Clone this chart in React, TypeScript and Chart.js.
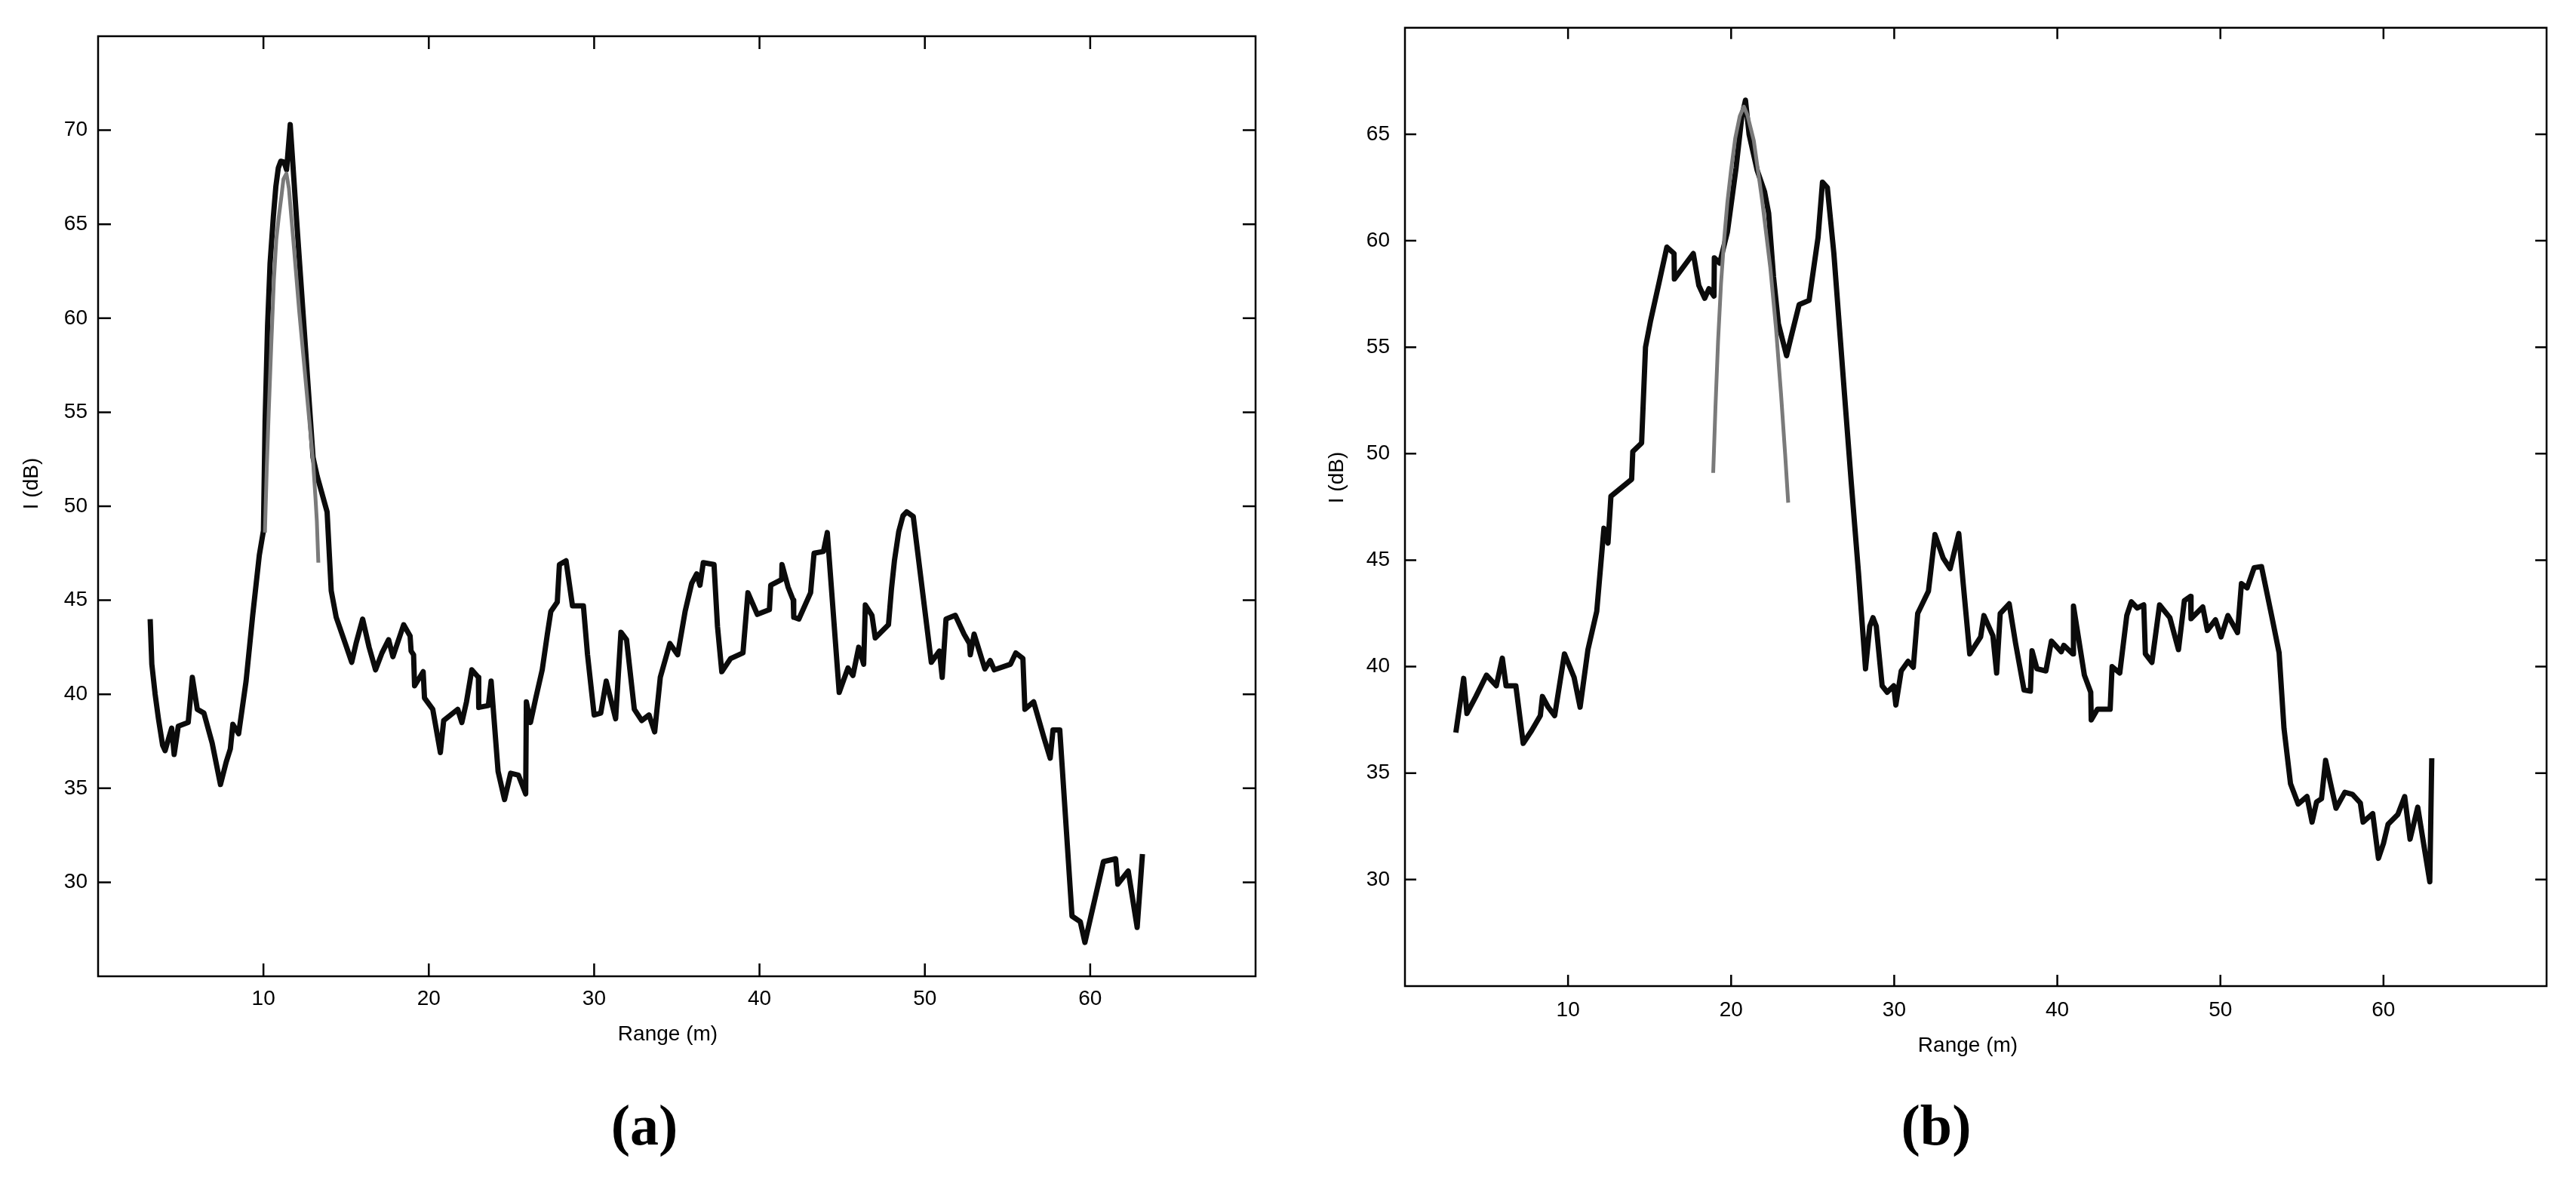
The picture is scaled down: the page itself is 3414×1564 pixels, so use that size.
import React, { useEffect, useRef } from 'react';
import { Chart, registerables } from 'chart.js';

Chart.register(...registerables);

// ---------- Data ----------
const xTickValues = [10, 20, 30, 40, 50, 60];
const yTicksA = [30, 35, 40, 45, 50, 55, 60, 65, 70];
const yTicksB = [30, 35, 40, 45, 50, 55, 60, 65];
const xTitle = 'Range (m)';
const yTitle = 'I (dB)';

// Panel (a): measured intensity
const rangeA = [
  3.15, 3.25, 3.45, 3.65, 3.9, 4.05, 4.45, 4.6, 4.85, 5.45,
  5.7, 6.0, 6.4, 6.9, 7.4, 7.75, 8.0, 8.15, 8.5, 8.95,
  9.35, 9.75, 10.0, 10.1, 10.25, 10.4, 10.6, 10.75, 10.9, 11.05,
  11.25, 11.4, 11.62, 12.0, 13.0, 13.25, 13.85, 14.1, 14.4, 14.95,
  15.34, 15.6, 16.0, 16.39, 16.78, 17.17, 17.57, 17.83, 18.48, 18.87,
  18.93, 19.08, 19.14, 19.66, 19.74, 20.24, 20.7, 20.9, 21.75, 22.0,
  22.28, 22.6, 23.0, 23.02, 23.6, 23.77, 24.19, 24.58, 24.95, 25.42,
  25.86, 25.9, 26.15, 26.47, 26.86, 27.17, 27.38, 27.77, 27.9, 28.3,
  28.69, 29.35, 29.6, 30.0, 30.4, 30.73, 31.3, 31.62, 31.96, 32.43,
  32.88, 33.32, 33.66, 34.0, 34.58, 35.05, 35.5, 35.9, 36.2, 36.4,
  36.6, 37.25, 37.46, 37.72, 38.25, 39.0, 39.3, 39.87, 40.6, 40.68,
  41.34, 41.36, 41.73, 42.04, 42.07, 42.38, 43.09, 43.3, 43.87, 44.1,
  44.82, 45.35, 45.65, 46.0, 46.3, 46.4, 46.8, 47.0, 47.8, 47.98,
  48.16, 48.42, 48.68, 48.9, 49.3, 50.39, 50.88, 51.05, 51.28, 51.84,
  52.37, 52.7, 52.75, 52.98, 53.63, 53.95, 54.2, 55.18, 55.5, 55.93,
  56.05, 56.58, 57.2, 57.58, 57.75, 58.16, 58.9, 59.4, 59.68, 60.8,
  61.54, 61.67, 62.3, 62.84, 63.16,
];
const intensityA = [
  44.0, 41.6, 40.0, 38.7, 37.3, 37.0, 38.2, 36.8, 38.3, 38.5,
  40.9, 39.2, 39.0, 37.4, 35.2, 36.4, 37.1, 38.4, 37.9, 40.7,
  44.2, 47.4, 48.7, 54.5, 59.6, 62.9, 65.4, 67.0, 68.0, 68.35,
  68.3, 67.9, 70.3, 65.3, 52.6, 51.6, 49.7, 45.5, 44.1, 42.7,
  41.7, 42.7, 44.0, 42.5, 41.3, 42.2, 42.9, 42.0, 43.7, 43.1,
  42.3, 42.1, 40.45, 41.2, 39.8, 39.2, 36.9, 38.6, 39.2, 38.5,
  39.6, 41.3, 40.9, 39.3, 39.4, 40.7, 35.9, 34.4, 35.8, 35.7,
  34.7, 39.6, 38.5, 39.8, 41.3, 43.2, 44.4, 44.9, 46.9, 47.1,
  44.7, 44.7, 42.1, 38.9, 39.0, 40.7, 38.7, 43.3, 42.9, 39.2,
  38.6, 38.9, 38.0, 40.9, 42.7, 42.1, 44.4, 45.9, 46.4, 45.8,
  47.0, 46.9, 43.6, 41.2, 41.9, 42.2, 45.4, 44.25, 44.5, 45.8,
  46.1, 46.9, 45.7, 45.0, 44.1, 44.0, 45.4, 47.5, 47.6, 48.6,
  40.1, 41.4, 41.0, 42.5, 41.6, 44.75, 44.2, 43.0, 43.7, 45.6,
  47.1, 48.65, 49.5, 49.7, 49.45, 41.7, 42.3, 40.9, 44.0, 44.2,
  43.2, 42.7, 42.1, 43.2, 41.35, 41.8, 41.3, 41.6, 42.2, 41.9,
  39.2, 39.6, 37.7, 36.6, 38.1, 38.1, 28.2, 27.9, 26.8, 31.1,
  31.25, 29.9, 30.6, 27.6, 31.5,
];
// Panel (a): fitted peak (grey)
const fitRangeA = [10.09, 10.2, 10.32, 10.47, 10.63, 10.78, 10.93, 11.09, 11.21, 11.39, 11.54, 11.85, 12.16, 12.77, 13.0, 13.15, 13.23, 13.32];
const fitIntensityA = [48.6, 52.0, 55.0, 58.5, 62.0, 64.2, 65.4, 66.5, 67.4, 67.7, 66.9, 63.7, 60.4, 54.6, 52.4, 50.4, 49.2, 47.0];

// Panel (b): measured intensity
const rangeB = [
  3.12, 3.25, 3.6, 3.8, 4.35, 5.0, 5.6, 5.97, 6.2, 6.8,
  7.25, 7.77, 8.3, 8.43, 8.78, 9.18, 9.78, 10.37, 10.74, 11.22,
  11.76, 12.2, 12.45, 12.63, 13.9, 13.97, 14.51, 14.75, 15.05, 15.6,
  16.06, 16.5, 16.52, 17.68, 18.02, 18.38, 18.64, 18.95, 18.97, 19.3,
  19.77, 20.3, 20.65, 20.88, 21.1, 21.6, 22.05, 22.3, 22.6, 22.9,
  23.4, 23.65, 24.17, 24.78, 25.33, 25.6, 25.9, 26.3, 26.95, 27.36,
  27.81, 28.0, 28.24, 28.5, 28.7, 28.9, 29.26, 29.57, 29.97, 30.1,
  30.43, 30.85, 31.17, 31.44, 32.1, 32.5, 33.0, 33.43, 33.96, 34.23,
  34.63, 35.3, 35.5, 36.05, 36.28, 36.5, 37.05, 37.44, 37.96, 38.35,
  38.45, 38.75, 39.3, 39.64, 40.24, 40.4, 40.95, 40.99, 41.66, 42.05,
  42.08, 42.46, 43.24, 43.36, 43.83, 44.26, 44.54, 44.9, 45.3, 45.4,
  45.8, 46.27, 46.9, 47.43, 47.79, 48.17, 48.2, 48.92, 49.2, 49.7,
  50.04, 50.46, 51.05, 51.29, 51.64, 52.07, 52.52, 53.18, 53.6, 53.9,
  54.3, 54.77, 55.31, 55.62, 55.9, 56.2, 56.45, 56.73, 57.09, 57.63,
  58.1, 58.58, 58.75, 59.34, 59.69, 60.0, 60.28, 60.88, 61.3, 61.63,
  62.1, 62.84, 62.96,
];
const intensityB = [
  36.9, 37.6, 39.45, 37.8, 38.6, 39.6, 39.1, 40.4, 39.1, 39.1,
  36.4, 37.0, 37.7, 38.6, 38.1, 37.7, 40.6, 39.5, 38.1, 40.8,
  42.6, 46.5, 45.8, 48.0, 48.8, 50.1, 50.5, 55.0, 56.2, 58.1,
  59.7, 59.4, 58.2, 59.4, 57.9, 57.3, 57.75, 57.4, 59.2, 58.95,
  60.4, 63.4, 65.8, 66.6, 65.0, 63.3, 62.3, 61.3, 58.3, 56.1,
  54.6, 55.4, 57.0, 57.2, 60.15, 62.75, 62.5, 59.4, 52.8, 48.7,
  44.4, 42.4, 39.9, 41.9, 42.3, 41.9, 39.1, 38.8, 39.1, 38.2,
  39.8, 40.25, 39.97, 42.5, 43.55, 46.2, 45.1, 44.6, 46.25, 43.9,
  40.6, 41.4, 42.4, 41.45, 39.7, 42.5, 42.95, 41.1, 38.9, 38.85,
  40.75, 39.9, 39.8, 41.2, 40.7, 41.0, 40.6, 42.85, 39.6, 38.8,
  37.5, 38.0, 38.0, 40.0, 39.7, 42.4, 43.05, 42.75, 42.9, 40.6,
  40.2, 42.9, 42.3, 40.8, 43.1, 43.3, 42.25, 42.8, 41.7, 42.2,
  41.4, 42.4, 41.6, 43.9, 43.7, 44.65, 44.7, 42.25, 40.65, 37.1,
  34.5, 33.55, 33.9, 32.7, 33.65, 33.8, 35.6, 34.6, 33.35, 34.1,
  34.0, 33.6, 32.7, 33.1, 31.0, 31.7, 32.6, 33.06, 33.9, 31.9,
  33.4, 29.9, 35.7,
];
// Panel (b): fitted peak (grey)
const fitRangeB = [18.9, 19.04, 19.2, 19.38, 19.57, 19.77, 20.0, 20.25, 20.53, 20.78, 21.0, 21.39, 21.9, 22.4, 22.75, 23.06, 23.31, 23.5];
const fitIntensityB = [49.1, 52.2, 55.3, 58.0, 60.05, 61.8, 63.35, 64.8, 65.85, 66.3, 65.9, 64.7, 61.9, 58.75, 55.9, 52.8, 50.0, 47.7];

// ---------- Layout ----------
const PAGE_W = 3414;
const PAGE_H = 1564;
const SANS = '"Liberation Sans", Arial, Helvetica, sans-serif';
const SERIF = '"Liberation Serif", "Times New Roman", serif';

type PanelSpec = {
  id: string;
  left: number;
  width: number;
  padTop: number;
  padRight: number;
  yAxisWidth: number;
  xAxisHeight: number;
  yMin: number;
  yMax: number;
  yTicks: number[];
  range: number[];
  intensity: number[];
  fitRange: number[];
  fitIntensity: number[];
  yLabelPad: number;
  xLabelPad: number;
  tickLen: number;
  xTitlePos: [number, number];
  yTitlePos: [number, number];
  panelLabel: string;
  panelLabelPos: [number, number];
};

const panelA: PanelSpec = {
  id: 'a',
  left: 0,
  width: 1740,
  padTop: 48,
  padRight: 76,
  yAxisWidth: 130,
  xAxisHeight: PAGE_H - 1294,
  yMin: 25,
  yMax: 75,
  yTicks: yTicksA,
  range: rangeA,
  intensity: intensityA,
  fitRange: fitRangeA,
  fitIntensity: fitIntensityA,
  yLabelPad: 14,
  xLabelPad: 13,
  tickLen: 17,
  xTitlePos: [885, 1371],
  yTitlePos: [42, 641],
  panelLabel: '(a)',
  panelLabelPos: [854, 1497],
};

const panelB: PanelSpec = {
  id: 'b',
  left: 1740,
  width: PAGE_W - 1740,
  padTop: 30,
  padRight: PAGE_W - 3375,
  yAxisWidth: 122,
  xAxisHeight: PAGE_H - 1307,
  yMin: 25,
  yMax: 70,
  yTicks: yTicksB,
  range: rangeB,
  intensity: intensityB,
  fitRange: fitRangeB,
  fitIntensity: fitIntensityB,
  yLabelPad: 20,
  xLabelPad: 15,
  tickLen: 15,
  xTitlePos: [868, 1386],
  yTitlePos: [32, 633],
  panelLabel: '(b)',
  panelLabelPos: [826, 1497],
};

function toPoints(xs: number[], ys: number[]) {
  return xs.map((x, i) => ({ x, y: ys[i] }));
}

function Panel({ spec }: { spec: PanelSpec }) {
  const ref = useRef<HTMLCanvasElement | null>(null);

  useEffect(() => {
    const canvas = ref.current;
    if (!canvas) return;

    const framePlugin = {
      id: 'frame_' + spec.id,
      beforeDatasetsDraw(chart: any) {
        const { ctx, chartArea, scales } = chart;
        const { left, right, top, bottom } = chartArea;
        const xs = scales.x;
        const ys = scales.y;
        ctx.save();
        ctx.strokeStyle = '#000';
        ctx.lineWidth = 2.5;
        ctx.lineCap = 'butt';
        ctx.strokeRect(left, top, right - left, bottom - top);
        const L = spec.tickLen;
        ctx.beginPath();
        xTickValues.forEach((v) => {
          const px = xs.getPixelForValue(v);
          ctx.moveTo(px, bottom);
          ctx.lineTo(px, bottom - L);
          ctx.moveTo(px, top);
          ctx.lineTo(px, top + L);
        });
        spec.yTicks.forEach((v) => {
          const py = ys.getPixelForValue(v);
          ctx.moveTo(left, py);
          ctx.lineTo(left + L, py);
          ctx.moveTo(right, py);
          ctx.lineTo(right - L, py);
        });
        ctx.stroke();
        ctx.restore();
      },
      afterDraw(chart: any) {
        const { ctx } = chart;
        ctx.save();
        ctx.fillStyle = '#000';
        ctx.font = `28px ${SANS}`;
        ctx.textAlign = 'center';
        ctx.textBaseline = 'middle';
        ctx.fillText(xTitle, spec.xTitlePos[0], spec.xTitlePos[1]);
        ctx.save();
        ctx.translate(spec.yTitlePos[0], spec.yTitlePos[1]);
        ctx.rotate(-Math.PI / 2);
        ctx.fillText(yTitle, 0, 0);
        ctx.restore();
        ctx.font = `bold 76px ${SERIF}`;
        ctx.fillText(spec.panelLabel, spec.panelLabelPos[0], spec.panelLabelPos[1]);
        ctx.restore();
      },
    };

    const tickFont = { family: SANS, size: 28 };

    const chart = new Chart(canvas, {
      type: 'line',
      data: {
        datasets: [
          {
            label: 'fit',
            data: toPoints(spec.fitRange, spec.fitIntensity),
            borderColor: '#7a7a7a',
            borderWidth: 5,
            pointRadius: 0,
            tension: 0,
            fill: false,
            borderJoinStyle: 'round',
            borderCapStyle: 'butt',
            order: 0,
          },
          {
            label: 'intensity',
            data: toPoints(spec.range, spec.intensity),
            borderColor: '#0b0b0b',
            borderWidth: 7,
            pointRadius: 0,
            tension: 0,
            fill: false,
            borderJoinStyle: 'round',
            borderCapStyle: 'butt',
            order: 1,
          },
        ],
      },
      options: {
        animation: false,
        responsive: false,
        maintainAspectRatio: false,
        devicePixelRatio: 1,
        layout: {
          padding: { left: 0, right: spec.padRight, top: spec.padTop, bottom: 0 },
        },
        plugins: {
          legend: { display: false },
          tooltip: { enabled: false },
          title: { display: false },
        },
        scales: {
          x: {
            type: 'linear',
            min: 0,
            max: 70,
            afterBuildTicks: (s: any) => {
              s.ticks = xTickValues.map((v) => ({ value: v }));
            },
            afterFit: (s: any) => {
              s.height = spec.xAxisHeight;
            },
            grid: { display: false, drawTicks: false },
            border: { display: false },
            ticks: {
              font: tickFont,
              color: '#000',
              padding: spec.xLabelPad,
              maxRotation: 0,
              autoSkip: false,
            },
          },
          y: {
            type: 'linear',
            min: spec.yMin,
            max: spec.yMax,
            afterBuildTicks: (s: any) => {
              s.ticks = spec.yTicks.map((v) => ({ value: v }));
            },
            afterFit: (s: any) => {
              s.width = spec.yAxisWidth;
            },
            grid: { display: false, drawTicks: false },
            border: { display: false },
            ticks: {
              font: tickFont,
              color: '#000',
              padding: spec.yLabelPad,
              autoSkip: false,
            },
          },
        },
      } as any,
      plugins: [framePlugin],
    });

    return () => {
      chart.destroy();
    };
  }, [spec]);

  return (
    <canvas
      ref={ref}
      width={spec.width}
      height={PAGE_H}
      style={{
        position: 'absolute',
        left: spec.left,
        top: 0,
        width: spec.width,
        height: PAGE_H,
        display: 'block',
      }}
    />
  );
}

export default function App() {
  return (
    <div
      style={{
        position: 'absolute',
        left: 0,
        top: 0,
        width: PAGE_W,
        height: PAGE_H,
        background: '#ffffff',
        overflow: 'hidden',
      }}
    >
      <Panel spec={panelA} />
      <Panel spec={panelB} />
    </div>
  );
}
